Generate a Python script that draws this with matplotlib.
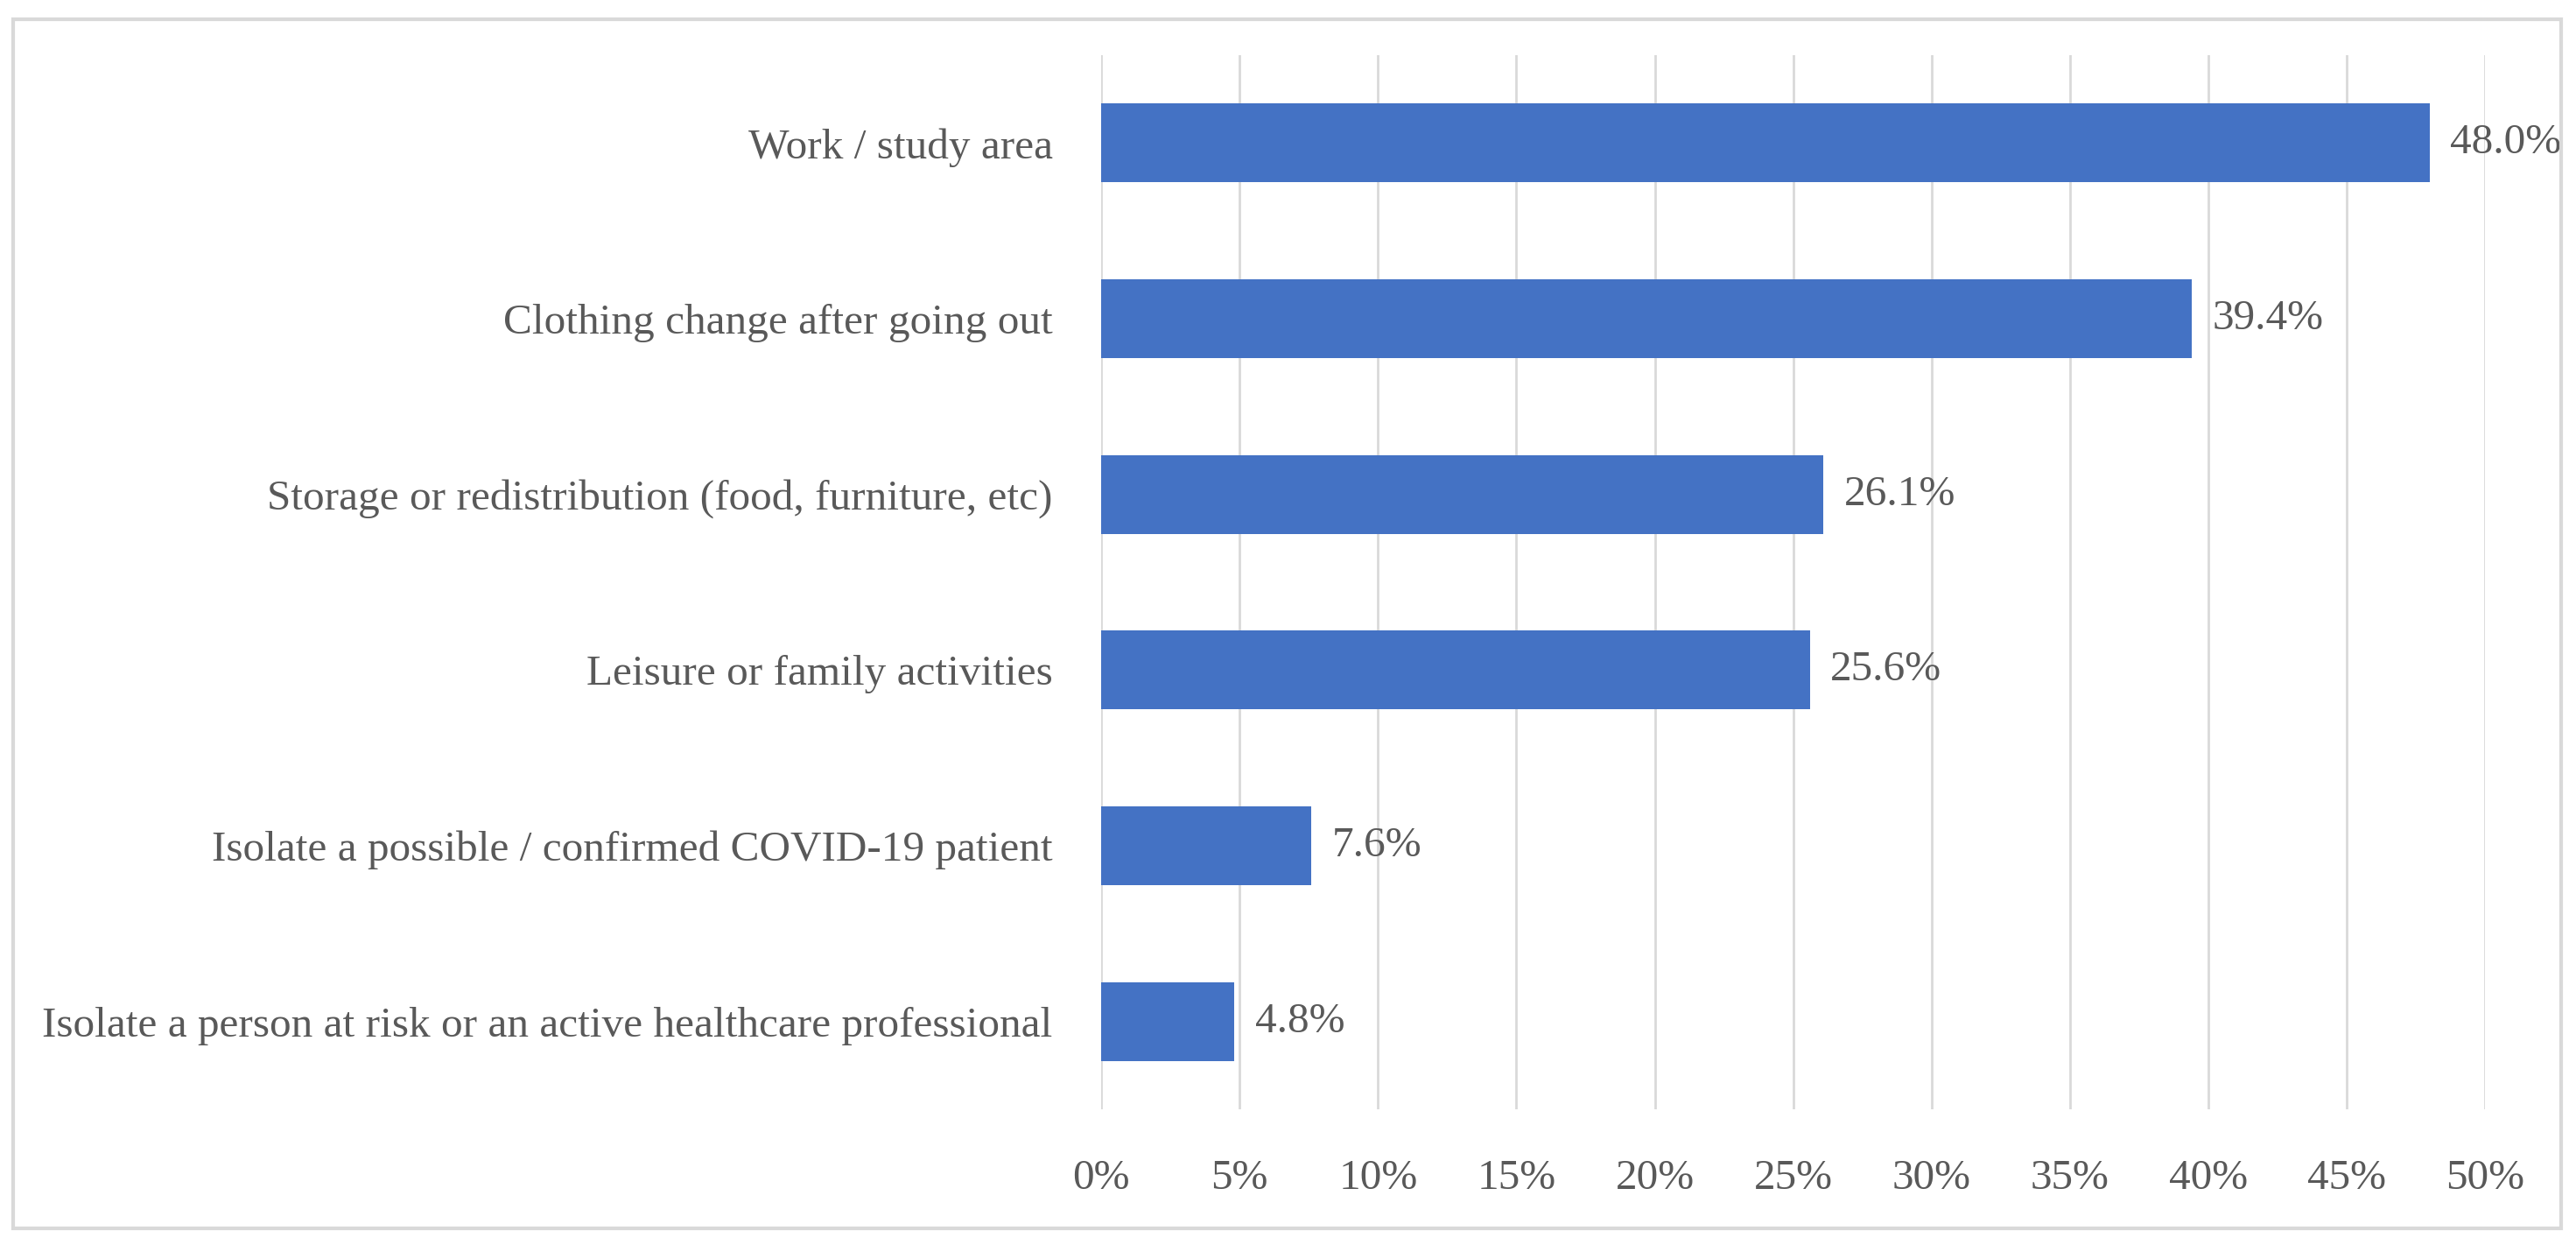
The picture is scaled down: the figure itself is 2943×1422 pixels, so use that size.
import matplotlib
matplotlib.use('Agg')
import matplotlib.pyplot as plt
from matplotlib.patches import Rectangle
from matplotlib.ticker import FuncFormatter, MultipleLocator

categories = ['Work / study area',
              'Clothing change after going out',
              'Storage or redistribution (food, furniture, etc)',
              'Leisure or family activities',
              'Isolate a possible / confirmed COVID-19 patient',
              'Isolate a person at risk or an active healthcare professional']
values = [48.0, 39.4, 26.1, 25.6, 7.6, 4.8]  # percent
value_labels = ['48.0%', '39.4%', '26.1%', '25.6%', '7.6%', '4.8%']

text_color = '#595959'
plt.rcParams['font.family'] = ['Liberation Serif', 'DejaVu Serif']

fig = plt.figure(figsize=(29.43, 14.22), dpi=100)
ax = fig.add_axes([0.4275, 0.109, 0.9647 - 0.4275, 0.9557 - 0.109])

pos = list(range(len(categories)))
ax.barh(pos, values, height=0.45, color='#4472C4', zorder=3)
ax.set_ylim(len(categories) - 0.5, -0.5)
ax.set_xlim(0, 50)
ax.set_yticks(pos)
ax.set_yticklabels(categories)
ax.xaxis.set_major_locator(MultipleLocator(5))
ax.xaxis.set_major_formatter(FuncFormatter(lambda v, p: '%d%%' % v))

ax.grid(axis='x', color='#d9d9d9', linewidth=2.0, zorder=0)
for s in ax.spines.values():
    s.set_visible(False)
ax.tick_params(axis='both', length=0, labelsize=35.5, labelcolor=text_color)
ax.tick_params(axis='y', pad=40)
ax.tick_params(axis='x', pad=41)

for y, v, lab in zip(pos, values, value_labels):
    ax.annotate(lab, xy=(v, y), xytext=(17, 0), textcoords='offset points',
                va='center', ha='left', fontsize=35.5, color=text_color, zorder=4)

# outer frame
fig.patches.append(Rectangle((15 / 2943, 1 - 1403 / 1422), (2926 - 15) / 2943,
                             (1403 - 22) / 1422, transform=fig.transFigure,
                             fill=False, edgecolor='#d9d9d9', linewidth=3))

fig.savefig('out.png', dpi=100, facecolor='white')
